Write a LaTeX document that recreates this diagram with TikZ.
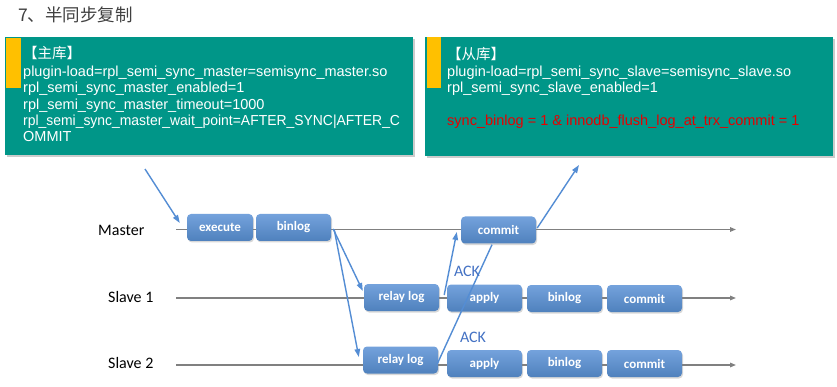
\documentclass[tikz,border=0pt]{standalone}
\usepackage{fontspec}
\setmainfont{Liberation Sans}
\newfontfamily\cjk{Noto Sans CJK SC}
\newfontfamily\carl{Carlito}
\usetikzlibrary{arrows.meta,shadows,calc}
\definecolor{teal1}{RGB}{0,150,136}
\definecolor{gold1}{RGB}{255,192,0}
\definecolor{boxtop}{RGB}{116,162,220}
\definecolor{boxbot}{RGB}{79,129,189}
\definecolor{arrowblue}{RGB}{84,141,212}
\definecolor{linegray}{RGB}{128,128,128}
\definecolor{ackblue}{RGB}{68,114,196}
\definecolor{titlegray}{RGB}{64,64,64}
\definecolor{redtext}{RGB}{230,0,0}
\begin{document}
\begin{tikzpicture}[x=1pt,y=-1pt,
  panel/.style={fill=teal1},
  panelshadow/.style={fill=black,opacity=0.2},
  bar/.style={fill=gold1},
  ptext/.style={anchor=base west, inner sep=0, text=white, font=\fontsize{14.5}{16}\selectfont},
  procbox/.style={rounded corners=4pt, top color=boxtop, bottom color=boxbot,
    minimum height=27pt, minimum width=75pt, text=white, inner sep=0,
    font=\carl\bfseries\fontsize{13}{14}\selectfont,
    drop shadow={opacity=0.3, shadow xshift=1pt, shadow yshift=-1.5pt}},
  rowlabel/.style={anchor=west, inner sep=0, font=\carl\fontsize{16}{18}\selectfont},
  acklabel/.style={inner sep=0, text=ackblue, font=\carl\fontsize{16}{18}\selectfont},
  flow/.style={draw=arrowblue, line width=1.4pt, -{Triangle[length=8pt,width=5.5pt]}},
  flowplain/.style={draw=arrowblue, line width=1.4pt},
  timeline/.style={draw=linegray, line width=1.4pt, -{Triangle[length=6pt,width=4.5pt]}}
]
\useasboundingbox (0,0) rectangle (837,387);
\fill[white] (0,0) rectangle (837,387);

% title
\node[anchor=base west, inner sep=0, text=titlegray, font=\cjk\fontsize{17.5}{20}\selectfont] (title) at (18,21.5) {7、半同步复制};

% left panel
\fill[panelshadow] (7,39) rectangle (415,157);
\fill[panel] (5,37) rectangle (413,155);
\fill[bar] (6,38) rectangle (21,88);
\node[ptext] (l1) at (23,59) {\cjk 【主库】};
\node[ptext] (l2) at (23,77) {plugin-load=rpl\_semi\_sync\_master=semisync\_master.so};
\node[ptext] (l3) at (23,93) {rpl\_semi\_sync\_master\_enabled=1};
\node[ptext] (l4) at (23,109.5) {rpl\_semi\_sync\_master\_timeout=1000};
\node[ptext] (l5) at (23,126) {\scalebox{0.96}[1]{rpl\_semi\_sync\_master\_wait\_point=AFTER\_SYNC|AFTER\_C}};
\node[ptext] (l6) at (23,142) {OMMIT};

% right panel
\fill[panelshadow] (427,39) rectangle (835,158);
\fill[panel] (425,37) rectangle (833,156);
\fill[bar] (427,37) rectangle (441,88);
\node[ptext] (r1t) at (447,60) {\cjk 【从库】};
\node[ptext] (r2t) at (447,77) {plugin-load=rpl\_semi\_sync\_slave=semisync\_slave.so};
\node[ptext] (r3t) at (447,93) {rpl\_semi\_sync\_slave\_enabled=1};
\node[ptext, text=redtext] (r4t) at (447,126) {sync\_binlog = 1 \& innodb\_flush\_log\_at\_trx\_commit = 1};

% row labels
\node[rowlabel] (lm) at (98,230) {Master};
\node[rowlabel] (ls1) at (108,297) {Slave 1};
\node[rowlabel] (ls2) at (108,363) {Slave 2};

% timelines
\coordinate (ms) at (176,229.5); \coordinate (me) at (736,229.5);
\coordinate (s1s) at (176,298); \coordinate (s1e) at (736,298);
\coordinate (s2s) at (176,365); \coordinate (s2e) at (736,365);
\draw[timeline] (ms) -- (me);
\draw[timeline] (s1s) -- (s1e);
\draw[timeline] (s2s) -- (s2e);

% master boxes
\node[procbox, minimum width=66pt] (mex) at (220,227.5) {execute};
\node[procbox] (mbl) at (293.5,227.5) {binlog};
\node[procbox] (mcm) at (498.5,230) {commit};
% slave 1
\node[procbox] (r1) at (401.5,297.5) {relay log};
\node[procbox] (a1) at (484.5,298) {apply};
\node[procbox] (b1) at (564.5,298.5) {binlog};
\node[procbox] (c1) at (644.5,298.5) {commit};
% slave 2
\node[procbox] (r2) at (400.5,360) {relay log};
\node[procbox] (a2) at (484.5,363.5) {apply};
\node[procbox] (b2) at (564.5,363.5) {binlog};
\node[procbox] (c2) at (644.5,363.5) {commit};

% flows
\coordinate (client) at (145,169);
\coordinate (outc) at (579,165);
\draw[flow] (client) -- ([xshift=-7pt,yshift=4.5pt]mex.west);
\draw[flow] ([xshift=2pt,yshift=-1.5pt]mbl.east) -- ([xshift=-1pt,yshift=6.5pt]r1.west);
\draw[flow] ([xshift=3pt,yshift=-2pt]mbl.east) -- ([xshift=-4pt,yshift=3pt]r2.west);
\draw[flow] ([xshift=5pt,yshift=2.5pt]r1.east) -- ([xshift=-4pt,yshift=-2pt]mcm.west);
\draw[flowplain] ([xshift=-1pt,yshift=-4pt]r2.east) -- ([xshift=-6.5pt,yshift=-1pt]mcm.south);
\draw[flow] ([xshift=1pt,yshift=2pt]mcm.east) -- (outc);

\node[acklabel] (ack1) at (467,271) {ACK};
\node[acklabel] (ack2) at (473,337) {ACK};
\end{tikzpicture}
\end{document}
